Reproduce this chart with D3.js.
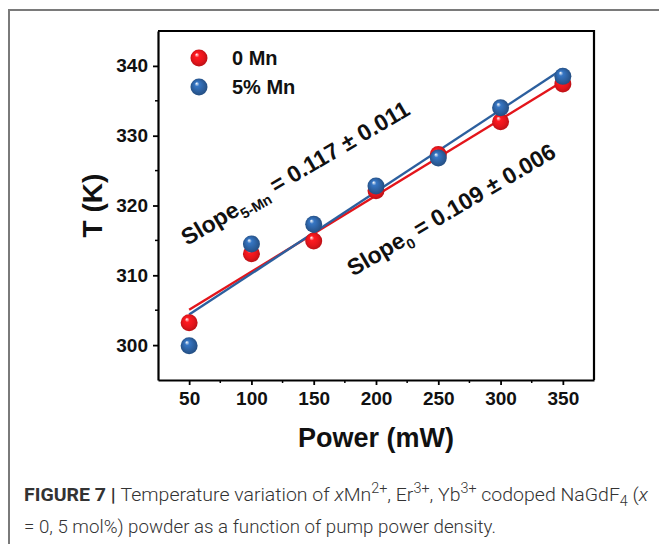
<!DOCTYPE html>
<html>
<head>
<meta charset="utf-8">
<script src="https://cdn.jsdelivr.net/npm/d3@7"></script>
<style>
  body { margin: 0; background: #fff; }
  svg { display: block; }
</style>
</head>
<body>
<svg></svg>
<script>
var width = 659;
var height = 544;

// data
var power = [50, 100, 150, 200, 250, 300, 350];
var temp0 = [303.2, 313.1, 314.9, 322.1, 327.3, 332.0, 337.4];
var temp5 = [299.9, 314.5, 317.3, 322.8, 326.8, 334.0, 338.5];
var seriesNames = ["0 Mn", "5% Mn"];
var seriesColors = ["#e3151b", "#2c5f9e"];
var xTicks = [50, 100, 150, 200, 250, 300, 350];
var yTicks = [300, 310, 320, 330, 340];

var margin = {left: 158, top: 31, right: 65, bottom: 164};

var svg = d3.select("svg")
    .attr("width", width)
    .attr("height", height);

// outer figure frame
svg.append("rect")
    .attr("x", 9).attr("y", 10)
    .attr("width", 700).attr("height", 600)
    .attr("fill", "none")
    .attr("stroke", "#7a7a7a")
    .attr("stroke-width", 2);

var x = d3.scaleLinear().domain([25, 375]).range([margin.left, width - margin.right]);
var y = d3.scaleLinear().domain([295, 345]).range([height - margin.bottom, margin.top]);

// sphere gradients
var defs = svg.append("defs");
seriesColors.forEach((c, i) => {
    var g = defs.append("radialGradient")
        .attr("id", "ball" + i)
        .attr("cx", "50%").attr("cy", "50%").attr("r", "55%")
        .attr("fx", "35%").attr("fy", "28%");
    g.append("stop").attr("offset", "0%").attr("stop-color", "#ffffff");
    g.append("stop").attr("offset", "25%").attr("stop-color", d3.color(c).brighter(0.6));
    g.append("stop").attr("offset", "65%").attr("stop-color", c);
    g.append("stop").attr("offset", "100%").attr("stop-color", d3.color(c).darker(0.7));
});

var tickFont = "'Liberation Sans', Arial, sans-serif";

// axes
var xAxis = d3.axisBottom(x).tickValues(xTicks).tickSize(5).tickSizeOuter(0).tickPadding(7);
var yAxis = d3.axisLeft(y).tickValues(yTicks).tickSize(5).tickSizeOuter(0).tickPadding(5);

var gx = svg.append("g")
    .attr("transform", `translate(0, ${y.range()[0]})`)
    .call(xAxis);
var gy = svg.append("g")
    .attr("transform", `translate(${x.range()[0]}, 0)`)
    .call(yAxis);

// minor ticks
gx.selectAll(".minor")
    .data(d3.range(75, 375, 50))
    .enter().append("line")
    .attr("x1", d => x(d)).attr("x2", d => x(d))
    .attr("y1", 0).attr("y2", 3)
    .attr("stroke", "#000").attr("stroke-width", 1.5);
gy.selectAll(".minor")
    .data(d3.range(305, 345, 10))
    .enter().append("line")
    .attr("y1", d => y(d)).attr("y2", d => y(d))
    .attr("x1", 0).attr("x2", -3)
    .attr("stroke", "#000").attr("stroke-width", 1.5);

[gx, gy].forEach(g => {
    g.select(".domain").attr("stroke-width", 2.2);
    g.selectAll(".tick line").attr("stroke-width", 1.8);
    g.selectAll(".tick text")
        .attr("font-family", tickFont)
        .attr("font-weight", "bold")
        .attr("font-size", "19px")
        .attr("fill", "#111");
});

// top + right frame
svg.append("path")
    .attr("d", `M${x.range()[0]},${y.range()[1]} H${x.range()[1]} V${y.range()[0]}`)
    .attr("fill", "none")
    .attr("stroke", "#000")
    .attr("stroke-width", 2.2);

// axis titles
svg.append("text")
    .attr("x", (x.range()[0] + x.range()[1]) / 2)
    .attr("y", 447)
    .attr("text-anchor", "middle")
    .attr("font-family", tickFont)
    .attr("font-weight", "bold")
    .attr("font-size", "27px")
    .attr("fill", "#111")
    .text("Power (mW)");

svg.append("text")
    .attr("transform", `translate(102, ${(y.range()[0] + y.range()[1]) / 2}) rotate(-90)`)
    .attr("text-anchor", "middle")
    .attr("font-family", tickFont)
    .attr("font-weight", "bold")
    .attr("font-size", "28px")
    .attr("fill", "#111")
    .text("T (K)");

// linear fits
function fit(xs, ys) {
    var mx = d3.mean(xs), my = d3.mean(ys);
    var sxy = d3.sum(xs, (d, i) => (d - mx) * (ys[i] - my));
    var sxx = d3.sum(xs, d => (d - mx) * (d - mx));
    var b = sxy / sxx;
    return v => my + b * (v - mx);
}

var series = [temp0, temp5];
var line = d3.line().x(d => x(d[0])).y(d => y(d[1]));

series.forEach((s, i) => {
    var f = fit(power, s);
    var ends = d3.extent(power);
    svg.append("path")
        .attr("d", line(ends.map(p => [p, f(p)])))
        .attr("fill", "none")
        .attr("stroke", seriesColors[i])
        .attr("stroke-width", 2.4);
});

series.forEach((s, i) => {
    svg.append("g").selectAll("circle")
        .data(power.map((p, j) => [p, s[j]]))
        .enter().append("circle")
        .attr("cx", d => x(d[0]))
        .attr("cy", d => y(d[1]))
        .attr("r", 8.5)
        .attr("fill", `url(#ball${i})`);
});

// legend
var legend = svg.append("g");
seriesNames.forEach((n, i) => {
    legend.append("circle")
        .attr("cx", 199).attr("cy", 58 + i * 29)
        .attr("r", 8.5)
        .attr("fill", `url(#ball${i})`);
    legend.append("text")
        .attr("x", 232).attr("y", 65 + i * 29)
        .attr("font-family", tickFont)
        .attr("font-weight", "bold")
        .attr("font-size", "20px")
        .attr("fill", "#111")
        .text(n);
});

// slope annotations
var notes = [
    {at: [48.3, 314.2], main: "Slope", sub: "5-Mn", rest: " = 0.117 \u00b1 0.011"},
    {at: [181.5, 309.8], main: "Slope", sub: "0", rest: " = 0.109 \u00b1 0.006"}
];
notes.forEach(n => {
    var t = svg.append("text")
        .attr("transform", `translate(${x(n.at[0])}, ${y(n.at[1])}) rotate(-30.5)`)
        .attr("font-family", tickFont)
        .attr("font-weight", "bold")
        .attr("font-size", "23px")
        .attr("fill", "#111");
    t.append("tspan").text(n.main);
    t.append("tspan").attr("font-size", "14.5px").attr("dy", 6).text(n.sub);
    t.append("tspan").attr("dy", -6).text(n.rest);
});

// caption
var capFont = "Roboto, 'Open Sans', sans-serif";
var cap1 = svg.append("text")
    .attr("x", 24).attr("y", 501)
    .attr("font-family", capFont)
    .attr("font-weight", 300)
    .attr("font-size", "19px")
    .attr("fill", "#333")
    .attr("textLength", 624)
    .attr("lengthAdjust", "spacingAndGlyphs");
cap1.append("tspan").attr("font-weight", "bold").text("FIGURE 7 | ");
cap1.append("tspan").text("Temperature variation of ");
cap1.append("tspan").attr("font-style", "italic").text("x");
cap1.append("tspan").text("Mn");
cap1.append("tspan").attr("dy", -8).attr("font-size", "14px").text("2+");
cap1.append("tspan").attr("dy", 8).text(", Er");
cap1.append("tspan").attr("dy", -8).attr("font-size", "14px").text("3+");
cap1.append("tspan").attr("dy", 8).text(", Yb");
cap1.append("tspan").attr("dy", -8).attr("font-size", "14px").text("3+");
cap1.append("tspan").attr("dy", 8).text(" codoped NaGdF");
cap1.append("tspan").attr("dy", 5).attr("font-size", "14px").text("4");
cap1.append("tspan").attr("dy", -5).text(" (");
cap1.append("tspan").attr("font-style", "italic").text("x");

svg.append("text")
    .attr("x", 24).attr("y", 533)
    .attr("font-family", capFont)
    .attr("font-weight", 300)
    .attr("font-size", "19px")
    .attr("fill", "#333")
    .attr("textLength", 472)
    .attr("lengthAdjust", "spacingAndGlyphs")
    .text("= 0, 5 mol%) powder as a function of pump power density.");
</script>
</body>
</html>
